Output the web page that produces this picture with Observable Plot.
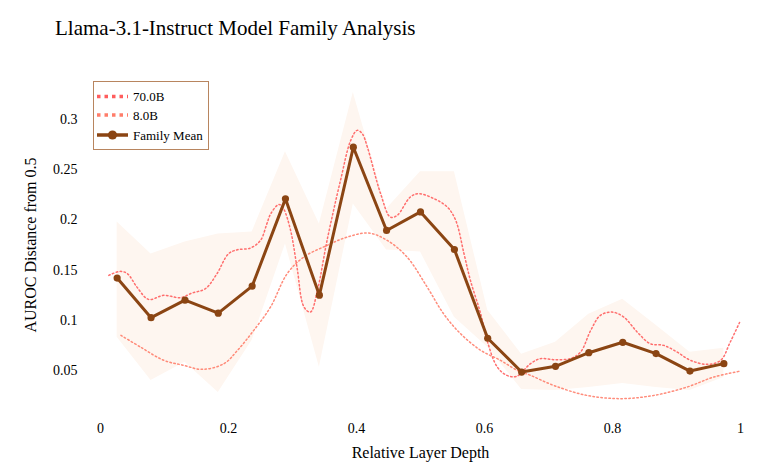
<!DOCTYPE html>
<html>
<head>
<meta charset="utf-8">
<script src="https://cdn.jsdelivr.net/npm/d3@7"></script>
<script src="https://cdn.jsdelivr.net/npm/@observablehq/plot@0.6"></script>
<style>
  html, body { margin: 0; padding: 0; background: white; }
  #wrap { position: relative; width: 778px; height: 474px; font-family: 'Liberation Serif', 'Times New Roman', serif; }
  #title { height: 55px; position: relative; }
  #title span { position: absolute; left: 55px; top: 18px; font-size: 21px; line-height: 21px; color: #000; white-space: nowrap; }
  #legend { position: absolute; left: 0; top: 0; pointer-events: none; }
</style>
</head>
<body>
<div id="wrap">
  <div id="title"><span>Llama-3.1-Instruct Model Family Analysis</span></div>
  <div id="chart"></div>
</div>
<script>
// ---- data ----
const seriesNames = ["70.0B", "8.0B", "Family Mean"];
const xTicks = [0, 0.2, 0.4, 0.6, 0.8, 1];
const yTicks = [0.05, 0.1, 0.15, 0.2, 0.25, 0.3];

// Family mean (19 relative depth bins)
const meanX = [0.026, 0.079, 0.132, 0.184, 0.237, 0.289, 0.342, 0.395, 0.447, 0.5,
               0.553, 0.605, 0.658, 0.711, 0.763, 0.816, 0.868, 0.921, 0.974];
const meanY = [0.142, 0.1025, 0.120, 0.107, 0.134, 0.221, 0.125, 0.2725, 0.1895, 0.208,
               0.1705, 0.082, 0.0483, 0.054, 0.0676, 0.078, 0.0667, 0.0493, 0.0567];
const bandHi = [0.198, 0.166, 0.178, 0.186, 0.188, 0.268, 0.196, 0.327, 0.211, 0.248,
                0.248, 0.110, 0.066, 0.078, 0.106, 0.121, 0.095, 0.068, 0.072];
const bandLo = [0.083, 0.040, 0.058, 0.028, 0.080, 0.176, 0.053, 0.216, 0.170, 0.168,
                0.103, 0.073, 0.031, 0.030, 0.033, 0.037, 0.033, 0.030, 0.043];

// 70.0B model curve
const x70 = [0.013, 0.031, 0.042, 0.057, 0.075, 0.099, 0.125, 0.143, 0.164, 0.182,
             0.200, 0.214, 0.234, 0.250, 0.260, 0.266, 0.279, 0.286, 0.297, 0.307,
             0.318, 0.328, 0.339, 0.354, 0.375, 0.391, 0.401, 0.409, 0.417, 0.4375,
             0.453, 0.4636, 0.484, 0.497, 0.521, 0.542, 0.555, 0.568, 0.578, 0.594,
             0.604, 0.620, 0.635, 0.650, 0.672, 0.6875, 0.708, 0.734, 0.750, 0.766,
             0.781, 0.7995, 0.8177, 0.8386, 0.859, 0.880, 0.901, 0.922, 0.948, 0.969,
             0.984, 1.0];
const y70 = [0.1447, 0.1487, 0.1464, 0.133, 0.1208, 0.1248, 0.1225, 0.1271, 0.1315, 0.1464,
             0.1663, 0.1703, 0.1719, 0.1796, 0.1963, 0.2062, 0.2155, 0.2112, 0.1896, 0.153,
             0.1131, 0.1081, 0.1298, 0.1796, 0.2394, 0.2793, 0.2893, 0.286, 0.2726, 0.2265,
             0.2028, 0.2045, 0.2228, 0.2262, 0.2212, 0.2128, 0.1996, 0.1663, 0.1397, 0.1065,
             0.0799, 0.0533, 0.045, 0.044, 0.0567, 0.0617, 0.0607, 0.0617, 0.0682, 0.0899,
             0.1048, 0.1081, 0.1031, 0.0882, 0.0766, 0.0749, 0.0682, 0.060, 0.056, 0.060,
             0.0782, 0.0998];

// 8.0B model curve
const x8 = [0.032, 0.0625, 0.099, 0.130, 0.159, 0.193, 0.214, 0.2395, 0.2656, 0.2917,
            0.3177, 0.354, 0.3855, 0.419, 0.448, 0.479, 0.5105, 0.536, 0.5625, 0.594,
            0.625, 0.651, 0.672, 0.708, 0.760, 0.8125, 0.8645, 0.9167, 0.958, 1.0];
const y8 = [0.0849, 0.0732, 0.060, 0.055, 0.051, 0.0567, 0.0699, 0.0899, 0.1131, 0.1464,
            0.163, 0.1746, 0.1829, 0.1869, 0.1796, 0.163, 0.133, 0.1065, 0.0866, 0.070,
            0.060, 0.050, 0.045, 0.035, 0.025, 0.0218, 0.025, 0.0334, 0.0433, 0.0493];

const colors = {"70.0B": "#ff4b4b", "8.0B": "#ff6f5a", "Family Mean": "#8b4513"};

const mean = meanX.map((x, i) => ({x, y: meanY[i], lo: bandLo[i], hi: bandHi[i]}));
const d70 = x70.map((x, i) => ({x, y: y70[i]}));
const d8 = x8.map((x, i) => ({x, y: y8[i]}));

const chart = Plot.plot({
  width: 778,
  height: 419,
  marginLeft: 100,
  marginRight: 38,
  marginTop: 14,
  marginBottom: 54,
  style: {fontFamily: "'Liberation Serif', 'Times New Roman', serif", fontSize: "14px", color: "#000", background: "white", overflow: "visible"},
  x: {domain: [0, 1], ticks: xTicks, tickFormat: d => String(d), tickSize: 0, tickPadding: 3, label: null},
  y: {domain: [0, 0.35], ticks: yTicks, tickFormat: d => String(d), tickSize: 0, tickPadding: 23, label: null},
  marks: [
    Plot.areaY(mean, {x: "x", y1: "lo", y2: "hi", fill: "#fef6f0"}),
    Plot.line(d70, {x: "x", y: "y", stroke: colors["70.0B"], strokeWidth: 1.5, strokeDasharray: "1.5,2.5", strokeOpacity: 0.8, curve: "catmull-rom"}),
    Plot.line(d8, {x: "x", y: "y", stroke: colors["8.0B"], strokeWidth: 1.5, strokeDasharray: "1.5,2.5", strokeOpacity: 0.8, curve: "catmull-rom"}),
    Plot.line(mean, {x: "x", y: "y", stroke: colors["Family Mean"], strokeWidth: 3}),
    Plot.dot(mean, {x: "x", y: "y", r: 3.6, fill: colors["Family Mean"], stroke: "none"}),
    Plot.text(["Relative Layer Depth"], {text: d => d, frameAnchor: "bottom", lineAnchor: "middle", textAnchor: "middle", dy: 32, fontSize: 16}),
    Plot.text(["AUROC Distance from 0.5"], {text: d => d, frameAnchor: "left", textAnchor: "middle", lineAnchor: "middle", dx: -70, rotate: -90, fontSize: 16})
  ]
});
document.getElementById("chart").appendChild(chart);

// ---- legend overlay ----
const svg = d3.select("#wrap").append("svg")
  .attr("id", "legend").attr("width", 778).attr("height", 474);
svg.append("rect").attr("x", 93.5).attr("y", 81.5).attr("width", 115).attr("height", 68)
  .attr("fill", "white").attr("fill-opacity", 0.85).attr("stroke", "#b8855f").attr("stroke-width", 1);
const rowsY = [96.5, 115, 135];
seriesNames.forEach((name, i) => {
  const y = rowsY[i];
  const g = svg.append("g");
  if (i < 2) {
    g.append("line").attr("x1", 97).attr("x2", 128).attr("y1", y).attr("y2", y)
      .attr("stroke", colors[name]).attr("stroke-width", 3.5).attr("stroke-dasharray", "3.5,4").attr("stroke-opacity", 0.9);
  } else {
    g.append("line").attr("x1", 97).attr("x2", 128).attr("y1", y).attr("y2", y)
      .attr("stroke", colors[name]).attr("stroke-width", 3.5);
    g.append("circle").attr("cx", 112.5).attr("cy", y).attr("r", 4.6).attr("fill", colors[name]);
  }
  g.append("text").attr("x", 133).attr("y", y).attr("dy", "0.35em")
    .attr("font-family", "'Liberation Serif', 'Times New Roman', serif").attr("font-size", 13)
    .attr("fill", "#000").text(name);
});
</script>
</body>
</html>
